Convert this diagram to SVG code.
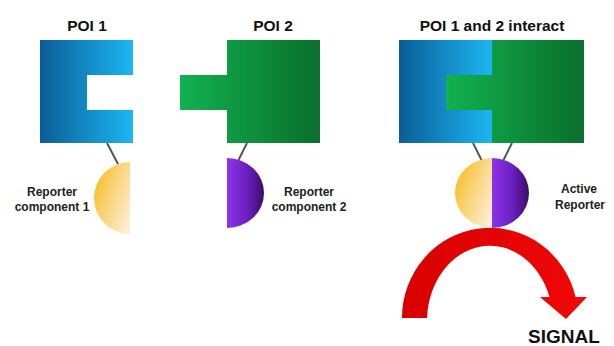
<svg xmlns="http://www.w3.org/2000/svg" width="614" height="346" viewBox="0 0 614 346">
<defs>
<linearGradient id="gBlue" x1="0" y1="0" x2="1" y2="0"><stop offset="0" stop-color="#0b5d97"/><stop offset="1" stop-color="#1cb6f2"/></linearGradient>
<linearGradient id="gBlue3" gradientUnits="userSpaceOnUse" x1="399" y1="0" x2="492" y2="0"><stop offset="0" stop-color="#0b5d97"/><stop offset="1" stop-color="#1cb6f2"/></linearGradient>
<linearGradient id="gGreen" gradientUnits="userSpaceOnUse" x1="180" y1="0" x2="320" y2="0"><stop offset="0" stop-color="#12b14f"/><stop offset="1" stop-color="#0a6f2d"/></linearGradient>
<linearGradient id="gGreen3" gradientUnits="userSpaceOnUse" x1="446" y1="0" x2="584" y2="0"><stop offset="0" stop-color="#12b14f"/><stop offset="1" stop-color="#0a6f2d"/></linearGradient>
<linearGradient id="gYellow" x1="0" y1="0.2" x2="1" y2="0.9"><stop offset="0" stop-color="#f7bd22"/><stop offset="0.45" stop-color="#fad47a"/><stop offset="1" stop-color="#fdf0da"/></linearGradient>
<linearGradient id="gPurple" x1="0" y1="0" x2="1" y2="0"><stop offset="0" stop-color="#8e33ea"/><stop offset="0.55" stop-color="#6b1fc0"/><stop offset="1" stop-color="#3a0c66"/></linearGradient>
<linearGradient id="gRed" gradientUnits="userSpaceOnUse" x1="400" y1="0" x2="590" y2="0"><stop offset="0" stop-color="#d80000"/><stop offset="1" stop-color="#f00808"/></linearGradient>
<style>
.title{font-family:"Liberation Sans",Arial,sans-serif;font-weight:bold;font-size:15.5px;fill:#111;text-anchor:middle}
.lbl{font-family:"Liberation Sans",Arial,sans-serif;font-weight:bold;font-size:12px;fill:#222;text-anchor:middle}
.sig{font-family:"Liberation Sans",Arial,sans-serif;font-weight:bold;font-size:19px;fill:#111;text-anchor:middle}
.tether{stroke:#555;stroke-width:2;fill:none}
</style>
</defs>
<rect width="614" height="346" fill="#ffffff"/>

<g id="poi1">
<path d="M40,40 H133 V75 H87 V110 H133 V143 H40 Z" fill="url(#gBlue)"/>
<text class="title" x="87" y="31">POI 1</text>
</g>

<g id="poi2">
<path d="M227,40 H320 V143 H227 V110 H180 V75 H227 Z" fill="url(#gGreen)"/>
<text class="title" x="273" y="31">POI 2</text>
</g>

<g id="poi-complex">
<path d="M399,40 H492 V75 H446 V110 H492 V143 H399 Z" fill="url(#gBlue3)"/>
<path d="M492,40 H584 V143 H492 V110 H446 V75 H492 Z" fill="url(#gGreen3)"/>
<text class="title" x="492" y="31">POI 1 and 2 interact</text>
</g>

<g id="connectors">
<line class="tether" x1="107" y1="143" x2="118" y2="164"/>
<line class="tether" x1="247" y1="143" x2="238" y2="161"/>
<line class="tether" x1="473" y1="143" x2="482" y2="161"/>
<line class="tether" x1="512" y1="143" x2="503" y2="161"/>
</g>

<g id="reporter1">
<path d="M130,162 A36,36 0 0 0 130,234 Z" fill="url(#gYellow)"/>
<text class="lbl" x="52" y="196">Reporter</text>
<text class="lbl" x="52" y="211">component 1</text>
</g>

<g id="reporter2">
<path d="M227,158 A37,35 0 0 1 227,228 Z" fill="url(#gPurple)"/>
<text class="lbl" x="309" y="196">Reporter</text>
<text class="lbl" x="309" y="211">component 2</text>
</g>

<g id="signal-arrow">
<path d="M402,318 A88,90 0 0 1 575.6,297 L587,297 L566,319 L540,297 L549.5,297 A63,76 0 0 0 427,318 Z" fill="url(#gRed)"/>
<text class="sig" x="564" y="343">SIGNAL</text>
</g>

<g id="active-reporter">
<path d="M492,158 A37,35 0 0 0 492,228 Z" fill="url(#gYellow)"/>
<path d="M492,158 A37,35 0 0 1 492,228 Z" fill="url(#gPurple)"/>
<text class="lbl" x="579" y="193">Active</text>
<text class="lbl" x="580" y="209">Reporter</text>
</g>
</svg>
